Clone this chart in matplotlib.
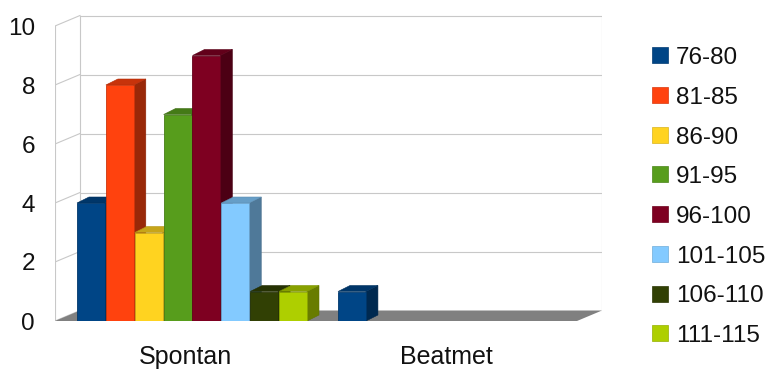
import matplotlib
matplotlib.use("Agg")
import matplotlib.pyplot as plt
from matplotlib.patches import Polygon, Rectangle
from matplotlib.colors import to_rgb
import numpy as np

plt.rcParams["font.family"] = ["Liberation Sans", "DejaVu Sans"]

# ---- data ---------------------------------------------------------------
categories = ["Spontan", "Beatmet"]
series_names = ["76-80", "81-85", "86-90", "91-95",
                "96-100", "101-105", "106-110", "111-115"]
spontan = [4, 8, 3, 7, 9, 4, 1, 1]
beatmet = [1, 0, 0, 0, 0, 0, 0, 0]
y_ticks = [0, 2, 4, 6, 8, 10]

colors = ["#004586", "#ff420e", "#ffd320", "#579d1c",
          "#7e0021", "#83caff", "#314004", "#aecf00"]

counts = np.array([spontan, beatmet], dtype=float).T   # (series, category)

# ---- layout (pixels) ----------------------------------------------------
W, H = 771, 369
X_FRONT_L = 55      # front-left edge of the plot box
X_BACK_R = 602      # right edge of the back wall
Y_FLOOR = 321       # front floor line (value 0)
Y_TOP = 14          # top of the back wall
CAT_PX = 261        # pixels per category
UNIT_PX = 29.5      # pixels per value unit

fig = plt.figure(figsize=(W / 100, H / 100), dpi=100)
fig.patch.set_facecolor("white")
ax = fig.add_axes([X_FRONT_L / W, (H - Y_FLOOR) / H,
                   (X_BACK_R - X_FRONT_L) / W, (Y_FLOOR - Y_TOP) / H])
ax.set_xlim(-0.5, -0.5 + (X_BACK_R - X_FRONT_L) / CAT_PX)
ax.set_ylim(0, (Y_FLOOR - Y_TOP) / UNIT_PX)
for s in ax.spines.values():
    s.set_visible(False)
ax.patch.set_visible(False)


def depth(dx_px, dy_px):
    """Convert a pixel offset into data units of the axes."""
    return dx_px / CAT_PX, dy_px / UNIT_PX


def shade(c, f):
    r, g, b = to_rgb(c)
    return (r * f, g * f, b * f)


wdx, wdy = depth(25, 10.5)     # depth of the walls/floor
bdx, bdy = depth(12, 6)        # depth of each bar

x_left = -0.5
x_right = x_left + len(categories)
ymax = y_ticks[-1]
grid_c = "#c8c8c8"
glw = 0.8

# back wall and side wall grid lines
for v in y_ticks:
    if v > 0:
        ax.plot([x_left + wdx, x_right + wdx], [v + wdy, v + wdy],
                color=grid_c, lw=glw, zorder=1, solid_capstyle="butt")
    ax.plot([x_left, x_left + wdx], [v, v + wdy],
            color=grid_c, lw=glw, zorder=1)
ax.plot([x_left, x_left], [0, ymax], color=grid_c, lw=glw, zorder=1)
ax.plot([x_left + wdx, x_left + wdx], [wdy, ymax + wdy],
        color=grid_c, lw=glw, zorder=1)
ax.plot([x_right + wdx, x_right + wdx], [wdy, ymax + wdy],
        color=grid_c, lw=glw, zorder=1)

# floor
ax.add_patch(Polygon([(x_left, 0), (x_right, 0), (x_right + wdx, wdy),
                      (x_left + wdx, wdy)], closed=True,
                     facecolor="#808080", edgecolor="none", zorder=2))

# ---- bars ---------------------------------------------------------------
group_offset = 0.0843
pitch = 0.1106
bar_w = 0.107
cat_x = np.arange(len(categories), dtype=float)

for i, (name, vals, col) in enumerate(zip(series_names, counts, colors)):
    z = 3 + i * 0.1
    xs = cat_x - 0.5 + group_offset + i * pitch
    keep = vals > 0
    bars = ax.bar(xs[keep], vals[keep], width=bar_w, align="edge",
                  color=col, edgecolor=shade(col, 0.8), linewidth=0.6,
                  zorder=z + 0.02, label=name)
    for b in bars:
        x0 = b.get_x()
        x1 = x0 + b.get_width()
        h = b.get_height()
        top = Polygon([(x0, h), (x1, h), (x1 + bdx, h + bdy), (x0 + bdx, h + bdy)],
                      closed=True, facecolor=shade(col, 0.78),
                      edgecolor=shade(col, 0.7), linewidth=0.4, zorder=z)
        side = Polygon([(x1, 0), (x1, h), (x1 + bdx, h + bdy), (x1 + bdx, bdy)],
                       closed=True, facecolor=shade(col, 0.6),
                       edgecolor=shade(col, 0.55), linewidth=0.4, zorder=z)
        ax.add_patch(side)
        ax.add_patch(top)

# ---- axes text ----------------------------------------------------------
ax.set_yticks(y_ticks)
ax.set_yticklabels([str(t) for t in y_ticks], fontsize=17.5, color="#111111")
ax.set_xticks(cat_x)
ax.set_xticklabels(categories, fontsize=18, color="#111111")
ax.tick_params(axis="y", length=0, pad=14.4)
ax.tick_params(axis="x", length=0, pad=17.5)

# ---- legend -------------------------------------------------------------
for i, (name, col) in enumerate(zip(series_names, colors)):
    yc = 55.3 + 39.7 * i
    fig.add_artist(Rectangle((652 / W, 1 - (yc + 8) / H), 16 / W, 16 / H,
                             transform=fig.transFigure, facecolor=col,
                             edgecolor=shade(col, 0.85), linewidth=0.5))
    fig.text(676 / W, 1 - (yc + 9) / H, name, fontsize=17.5,
             va="baseline", ha="left", color="#111111")

fig.savefig("out.png", dpi=100, facecolor="white")
